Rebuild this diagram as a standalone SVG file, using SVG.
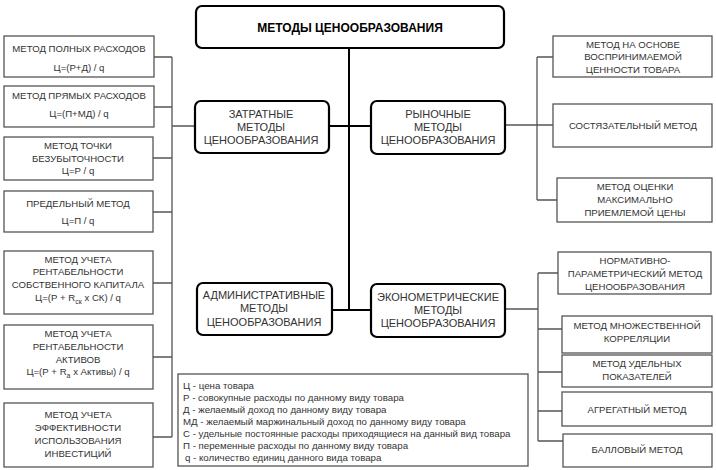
<svg xmlns="http://www.w3.org/2000/svg" width="716" height="470" viewBox="0 0 716 470">
<style>
text{font-family:"Liberation Sans",Arial,sans-serif;fill:#333;text-anchor:middle}
.t{font-size:12px;font-weight:bold;fill:#000}
.c{font-size:11px}
.s{font-size:9.6px}
.l{font-size:9.7px;text-anchor:start}
.main{fill:#fff;stroke:#000;stroke-width:2.2}
.box{fill:#fff;stroke:#555;stroke-width:1.3}
.k{fill:none;stroke:#000;stroke-width:2}
.g{fill:none;stroke:#555;stroke-width:1.3}
</style>
<rect width="716" height="470" fill="#fff"/>
<g id="connectors">
<path class="k" d="M349 48V310M330 126H371M332 310H371"/>
<path class="g" d="M154 57H172M154 107H172M153 158H172M153 212H172M153 283H172M153 357H172M153 437H172M172 57V437M172 126H195"/>
<path class="g" d="M506 125H553M537 57V200M537 57H553M537 200H557"/>
<path class="g" d="M505 309H538M538 273V441M538 273H558M538 329H562M538 372H562M538 411H562M538 441H563"/>
</g>
<g id="title"><rect class="main" x="196" y="6" width="308" height="42" rx="6"/><text class="t" x="350" y="32">МЕТОДЫ ЦЕНООБРАЗОВАНИЯ</text></g>
<g id="zatratnye"><rect class="main" x="195" y="101" width="134" height="52" rx="6"/><text class="c" x="261" y="118">ЗАТРАТНЫЕ</text><text class="c" x="261" y="131">МЕТОДЫ</text><text class="c" x="261" y="144">ЦЕНООБРАЗОВАНИЯ</text></g>
<g id="rynochnye"><rect class="main" x="371" y="101" width="134" height="53" rx="6"/><text class="c" x="438" y="118">РЫНОЧНЫЕ</text><text class="c" x="438" y="131">МЕТОДЫ</text><text class="c" x="438" y="144">ЦЕНООБРАЗОВАНИЯ</text></g>
<g id="admin"><rect class="main" x="197" y="283" width="135" height="52" rx="6"/><text class="c" x="264" y="299">АДМИНИСТРАТИВНЫЕ</text><text class="c" x="264" y="312">МЕТОДЫ</text><text class="c" x="264" y="326">ЦЕНООБРАЗОВАНИЯ</text></g>
<g id="econometr"><rect class="main" x="371" y="284" width="134" height="53" rx="6"/><text class="c" x="438" y="301">ЭКОНОМЕТРИЧЕСКИЕ</text><text class="c" x="438" y="314">МЕТОДЫ</text><text class="c" x="438" y="327">ЦЕНООБРАЗОВАНИЯ</text></g>
<g id="l1"><rect class="box" x="4" y="36" width="150" height="41"/><text class="s" x="79" y="52">МЕТОД ПОЛНЫХ РАСХОДОВ</text><text class="s" x="79" y="71">Ц=(Р+Д) / q</text></g>
<g id="l2"><rect class="box" x="4" y="86" width="150" height="41"/><text class="s" x="79" y="99">МЕТОД ПРЯМЫХ РАСХОДОВ</text><text class="s" x="79" y="117">Ц=(П+МД) / q</text></g>
<g id="l3"><rect class="box" x="4" y="137" width="149" height="43"/><text class="s" x="78" y="149">МЕТОД ТОЧКИ</text><text class="s" x="78" y="162">БЕЗУБЫТОЧНОСТИ</text><text class="s" x="78" y="174">Ц=Р / q</text></g>
<g id="l4"><rect class="box" x="4" y="191" width="149" height="41"/><text class="s" x="78" y="207">ПРЕДЕЛЬНЫЙ МЕТОД</text><text class="s" x="78" y="224">Ц=П / q</text></g>
<g id="l5"><rect class="box" x="4" y="251" width="149" height="63"/><text class="s" x="78" y="263">МЕТОД УЧЕТА</text><text class="s" x="78" y="275">РЕНТАБЕЛЬНОСТИ</text><text class="s" x="78" y="288">СОБСТВЕННОГО КАПИТАЛА</text><text class="s" x="78" y="301">Ц=(Р + R<tspan font-size="7" dy="3">ск</tspan><tspan dy="-3"> x СК) / q</tspan></text></g>
<g id="l6"><rect class="box" x="4" y="325" width="149" height="64"/><text class="s" x="78" y="337">МЕТОД УЧЕТА</text><text class="s" x="78" y="350">РЕНТАБЕЛЬНОСТИ</text><text class="s" x="78" y="363">АКТИВОВ</text><text class="s" x="78" y="375">Ц=(Р + R<tspan font-size="7" dy="3">а</tspan><tspan dy="-3"> x Активы) / q</tspan></text></g>
<g id="l7"><rect class="box" x="4" y="403" width="149" height="64"/><text class="s" x="78" y="418">МЕТОД УЧЕТА</text><text class="s" x="78" y="431">ЭФФЕКТИВНОСТИ</text><text class="s" x="78" y="444">ИСПОЛЬЗОВАНИЯ</text><text class="s" x="78" y="457">ИНВЕСТИЦИЙ</text></g>
<g id="r1"><rect class="box" x="553" y="36" width="159" height="41"/><text class="s" x="633" y="48">МЕТОД НА ОСНОВЕ</text><text class="s" x="633" y="60">ВОСПРИНИМАЕМОЙ</text><text class="s" x="633" y="73">ЦЕННОСТИ ТОВАРА</text></g>
<g id="r2"><rect class="box" x="553" y="104" width="159" height="43"/><text class="s" x="633" y="129">СОСТЯЗАТЕЛЬНЫЙ МЕТОД</text></g>
<g id="r3"><rect class="box" x="557" y="178" width="155" height="44"/><text class="s" x="635" y="190">МЕТОД ОЦЕНКИ</text><text class="s" x="635" y="203">МАКСИМАЛЬНО</text><text class="s" x="635" y="216">ПРИЕМЛЕМОЙ ЦЕНЫ</text></g>
<g id="e1"><rect class="box" x="558" y="252" width="153" height="42"/><text class="s" x="635" y="264">НОРМАТИВНО-</text><text class="s" x="635" y="277">ПАРАМЕТРИЧЕСКИЙ МЕТОД</text><text class="s" x="635" y="290">ЦЕНООБРАЗОВАНИЯ</text></g>
<g id="e2"><rect class="box" x="562" y="316" width="150" height="37"/><text class="s" x="637" y="329">МЕТОД МНОЖЕСТВЕННОЙ</text><text class="s" x="637" y="342">КОРРЕЛЯЦИИ</text></g>
<g id="e3"><rect class="box" x="562" y="355" width="150" height="32"/><text class="s" x="637" y="367">МЕТОД УДЕЛЬНЫХ</text><text class="s" x="637" y="380">ПОКАЗАТЕЛЕЙ</text></g>
<g id="e4"><rect class="box" x="562" y="392" width="150" height="34"/><text class="s" x="637" y="413">АГРЕГАТНЫЙ МЕТОД</text></g>
<g id="e5"><rect class="box" x="563" y="434" width="149" height="33"/><text class="s" x="637" y="453">БАЛЛОВЫЙ МЕТОД</text></g>
<g id="legend"><rect class="box" x="178" y="374" width="350" height="92"/>
<text class="l" x="183" y="389">Ц - цена товара</text>
<text class="l" x="183" y="401">Р - совокупные расходы по данному виду товара</text>
<text class="l" x="183" y="413">Д - желаемый доход по данному виду товара</text>
<text class="l" x="183" y="425">МД  - желаемый маржинальный доход по данному виду товара</text>
<text class="l" x="183" y="437">С - удельные постоянные расходы приходящиеся на данный вид товара</text>
<text class="l" x="183" y="449">П - переменные расходы по данному виду товара</text>
<text class="l" x="185" y="461">q - количество единиц данного вида товара</text>
</g>
</svg>
